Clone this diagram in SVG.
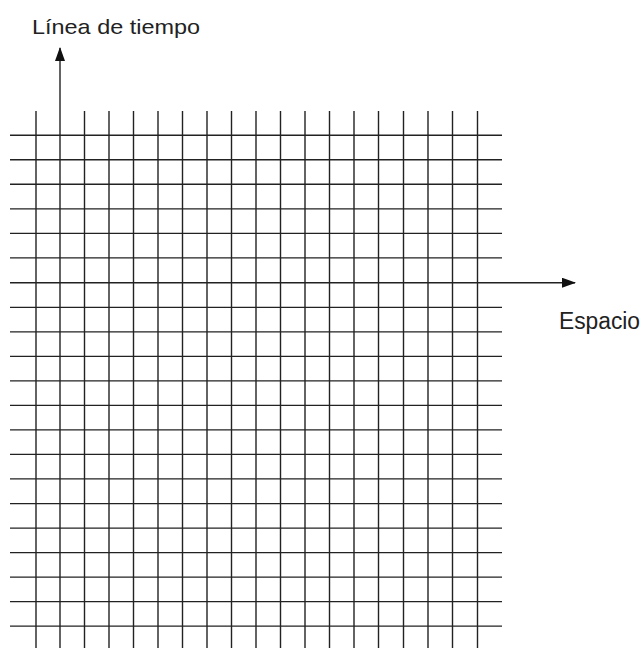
<svg xmlns="http://www.w3.org/2000/svg" width="643" height="648" viewBox="0 0 643 648">
<defs>
<style>
.g line{stroke:#222;stroke-width:1.4;}
.ax{stroke:#222;stroke-width:1.4;fill:none;}
.lbl{font-family:"Liberation Sans",Arial,sans-serif;fill:#222;}
</style>
<marker id="ah" viewBox="0 0 14 10" refX="13" refY="5" markerWidth="14" markerHeight="10" markerUnits="userSpaceOnUse" orient="auto">
<path d="M0,0 L14,5 L0,10 Z" fill="#111"/>
</marker>
</defs>
<rect width="643" height="648" fill="#fff"/>
<g id="grid" class="g">
<line x1="36" y1="111" x2="36" y2="648"/>
<line x1="84.5" y1="111" x2="84.5" y2="648"/>
<line x1="109" y1="111" x2="109" y2="648"/>
<line x1="133.5" y1="111" x2="133.5" y2="648"/>
<line x1="158" y1="111" x2="158" y2="648"/>
<line x1="182.5" y1="111" x2="182.5" y2="648"/>
<line x1="207" y1="111" x2="207" y2="648"/>
<line x1="231.5" y1="111" x2="231.5" y2="648"/>
<line x1="256" y1="111" x2="256" y2="648"/>
<line x1="280.5" y1="111" x2="280.5" y2="648"/>
<line x1="305" y1="111" x2="305" y2="648"/>
<line x1="329.5" y1="111" x2="329.5" y2="648"/>
<line x1="354" y1="111" x2="354" y2="648"/>
<line x1="378.5" y1="111" x2="378.5" y2="648"/>
<line x1="403.5" y1="111" x2="403.5" y2="648"/>
<line x1="428" y1="111" x2="428" y2="648"/>
<line x1="452.5" y1="111" x2="452.5" y2="648"/>
<line x1="477.5" y1="111" x2="477.5" y2="648"/>
<line x1="10" y1="135.3" x2="502" y2="135.3"/>
<line x1="10" y1="159.8" x2="502" y2="159.8"/>
<line x1="10" y1="184.3" x2="502" y2="184.3"/>
<line x1="10" y1="208.9" x2="502" y2="208.9"/>
<line x1="10" y1="233.4" x2="502" y2="233.4"/>
<line x1="10" y1="257.9" x2="502" y2="257.9"/>
<line x1="10" y1="307.4" x2="502" y2="307.4"/>
<line x1="10" y1="331.9" x2="502" y2="331.9"/>
<line x1="10" y1="356.4" x2="502" y2="356.4"/>
<line x1="10" y1="380.9" x2="502" y2="380.9"/>
<line x1="10" y1="405.4" x2="502" y2="405.4"/>
<line x1="10" y1="429.9" x2="502" y2="429.9"/>
<line x1="10" y1="454.4" x2="502" y2="454.4"/>
<line x1="10" y1="478.9" x2="502" y2="478.9"/>
<line x1="10" y1="503.6" x2="502" y2="503.6"/>
<line x1="10" y1="528.1" x2="502" y2="528.1"/>
<line x1="10" y1="552.6" x2="502" y2="552.6"/>
<line x1="10" y1="577.1" x2="502" y2="577.1"/>
<line x1="10" y1="601.6" x2="502" y2="601.6"/>
<line x1="10" y1="626.1" x2="502" y2="626.1"/>
</g>
<g id="connectors">
<line id="time-axis" class="ax" x1="60" y1="648" x2="60" y2="48" marker-end="url(#ah)"/>
<line id="space-axis" class="ax" x1="10" y1="282.7" x2="575" y2="282.7" marker-end="url(#ah)"/>
</g>
<g id="label-time">
<text class="lbl" x="32" y="34" font-size="21" textLength="168" lengthAdjust="spacingAndGlyphs">Línea de tiempo</text>
</g>
<g id="label-space">
<text class="lbl" x="559" y="329" font-size="23" textLength="81" lengthAdjust="spacingAndGlyphs">Espacio</text>
</g>
</svg>
